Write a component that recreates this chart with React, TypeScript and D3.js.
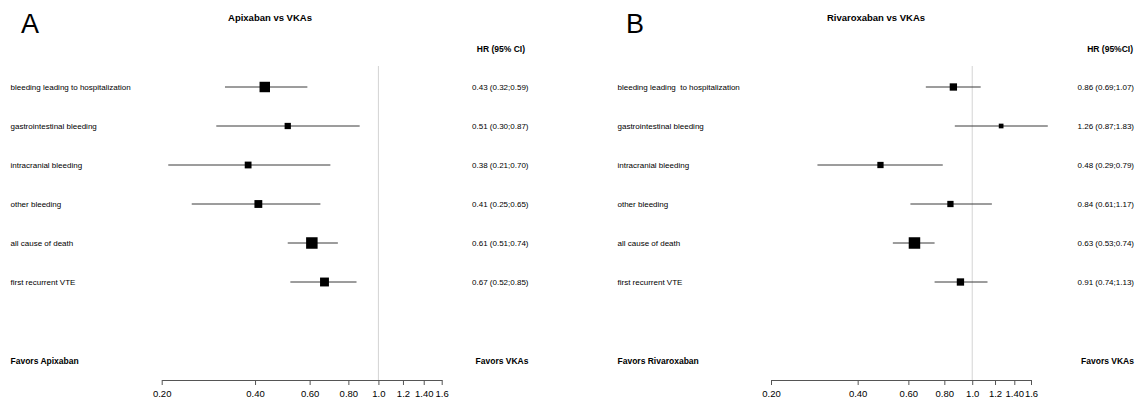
import { useEffect, useRef } from "react";
import * as d3 from "d3";

// outcomes (same order in both panels)
const outcomesA = [
  "bleeding leading to hospitalization",
  "gastrointestinal bleeding",
  "intracranial bleeding",
  "other bleeding",
  "all cause of death",
  "first recurrent VTE",
];
const outcomesB = [
  "bleeding leading  to hospitalization",
  "gastrointestinal bleeding",
  "intracranial bleeding",
  "other bleeding",
  "all cause of death",
  "first recurrent VTE",
];

// Apixaban vs VKAs
const hrA = [0.43, 0.51, 0.38, 0.41, 0.61, 0.67];
const lowA = [0.32, 0.3, 0.21, 0.25, 0.51, 0.52];
const highA = [0.59, 0.87, 0.7, 0.65, 0.74, 0.85];
const weightA = [10, 6, 6.5, 7.5, 11, 8.5];
const ciTextA = [
  "0.43 (0.32;0.59)",
  "0.51 (0.30;0.87)",
  "0.38 (0.21;0.70)",
  "0.41 (0.25;0.65)",
  "0.61 (0.51;0.74)",
  "0.67 (0.52;0.85)",
];

// Rivaroxaban vs VKAs
const hrB = [0.86, 1.26, 0.48, 0.84, 0.63, 0.91];
const lowB = [0.69, 0.87, 0.29, 0.61, 0.53, 0.74];
const highB = [1.07, 1.83, 0.79, 1.17, 0.74, 1.13];
const weightB = [7, 4.5, 6, 6, 11, 7];
const ciTextB = [
  "0.86 (0.69;1.07)",
  "1.26 (0.87;1.83)",
  "0.48 (0.29;0.79)",
  "0.84 (0.61;1.17)",
  "0.63 (0.53;0.74)",
  "0.91 (0.74;1.13)",
];

// x axis
const tickValues = [0.2, 0.4, 0.6, 0.8, 1.0, 1.2, 1.4, 1.6];
const tickLabels = ["0.20", "0.40", "0.60", "0.80", "1.0", "1.2", "1.40", "1.6"];

const W = 1141;
const H = 403;
const FONT = "'Liberation Sans', Arial, sans-serif";

type Panel = {
  letter: string;
  title: string;
  header: string;
  favorsLeft: string;
  outcomes: string[];
  hr: number[];
  low: number[];
  high: number[];
  weight: number[];
  ciText: string[];
  letterX: number;
  titleX: number;
  labelX: number;
  axisRange: [number, number];
  textRight: number;
  headerRight: number;
};

const panels: Panel[] = [
  {
    letter: "A",
    title: "Apixaban vs VKAs",
    header: "HR (95% CI)",
    favorsLeft: "Favors Apixaban",
    outcomes: outcomesA,
    hr: hrA,
    low: lowA,
    high: highA,
    weight: weightA,
    ciText: ciTextA,
    letterX: 21,
    titleX: 270,
    labelX: 10.5,
    axisRange: [161.7, 441.7],
    textRight: 528.5,
    headerRight: 525,
  },
  {
    letter: "B",
    title: "Rivaroxaban vs VKAs",
    header: "HR (95%CI)",
    favorsLeft: "Favors Rivaroxaban",
    outcomes: outcomesB,
    hr: hrB,
    low: lowB,
    high: highB,
    weight: weightB,
    ciText: ciTextB,
    letterX: 626,
    titleX: 876,
    labelX: 617.5,
    axisRange: [771, 1031],
    textRight: 1134,
    headerRight: 1133,
  },
];

export default function App() {
  const ref = useRef<SVGSVGElement | null>(null);

  useEffect(() => {
    const svg = d3.select(ref.current);
    svg.selectAll("*").remove();

    const axisY = 380;
    const boxSize = d3.scaleLinear().domain([0, 11]).range([0, 11.5]);

    panels.forEach((p) => {
      const x = d3.scaleLog().domain([0.2, 1.6]).range(p.axisRange);
      const y = d3.scalePoint<string>().domain(p.outcomes).range([87, 282]);
      const g = svg.append("g").attr("font-family", FONT);

      // panel letter + title
      g.append("text")
        .attr("x", p.letterX)
        .attr("y", 33)
        .attr("font-size", 27)
        .attr("fill", "#000")
        .text(p.letter);
      g.append("text")
        .attr("x", p.titleX)
        .attr("y", 21)
        .attr("text-anchor", "middle")
        .attr("font-size", 9.5)
        .attr("font-weight", "bold")
        .text(p.title);
      g.append("text")
        .attr("x", p.headerRight)
        .attr("y", 52)
        .attr("text-anchor", "end")
        .attr("font-size", 8.5)
        .attr("font-weight", "bold")
        .text(p.header);

      // null line at HR = 1
      g.append("line")
        .attr("x1", x(1))
        .attr("x2", x(1))
        .attr("y1", 66)
        .attr("y2", axisY)
        .attr("stroke", "#d4d4d4")
        .attr("stroke-width", 1);

      p.outcomes.forEach((name, i) => {
        const cy = y(name) as number;
        g.append("text")
          .attr("x", p.labelX)
          .attr("y", cy + 3)
          .attr("font-size", 8)
          .style("white-space", "pre")
          .text(name);
        g.append("line")
          .attr("x1", x(p.low[i]))
          .attr("x2", x(p.high[i]))
          .attr("y1", cy)
          .attr("y2", cy)
          .attr("stroke", "#3a3a3a")
          .attr("stroke-width", 1);
        const s = boxSize(p.weight[i]);
        g.append("rect")
          .attr("x", x(p.hr[i]) - s / 2)
          .attr("y", cy - s / 2)
          .attr("width", s)
          .attr("height", s)
          .attr("fill", "#000");
        g.append("text")
          .attr("x", p.textRight)
          .attr("y", cy + 3)
          .attr("text-anchor", "end")
          .attr("font-size", 8)
          .text(p.ciText[i]);
      });

      // favors labels
      g.append("text")
        .attr("x", p.labelX)
        .attr("y", 364)
        .attr("font-size", 8.5)
        .attr("font-weight", "bold")
        .text(p.favorsLeft);
      g.append("text")
        .attr("x", p.textRight)
        .attr("y", 364)
        .attr("text-anchor", "end")
        .attr("font-size", 8.5)
        .attr("font-weight", "bold")
        .text("Favors VKAs");

      // x axis
      const ax = g
        .append("g")
        .attr("transform", `translate(0,${axisY})`)
        .call(
          d3
            .axisBottom(x)
            .tickValues(tickValues)
            .tickSize(5)
            .tickSizeOuter(0)
            .tickFormat((_, i) => tickLabels[i])
        );
      ax.select(".domain").attr("stroke", "#555");
      ax.selectAll(".tick line").attr("stroke", "#555");
      ax.selectAll(".tick text")
        .attr("font-family", FONT)
        .attr("font-size", 9.5)
        .attr("fill", "#000")
        .attr("dy", "0.9em");
    });
  }, []);

  return (
    <svg
      ref={ref}
      width={W}
      height={H}
      style={{ position: "absolute", left: 0, top: 0, background: "#fff" }}
    />
  );
}
